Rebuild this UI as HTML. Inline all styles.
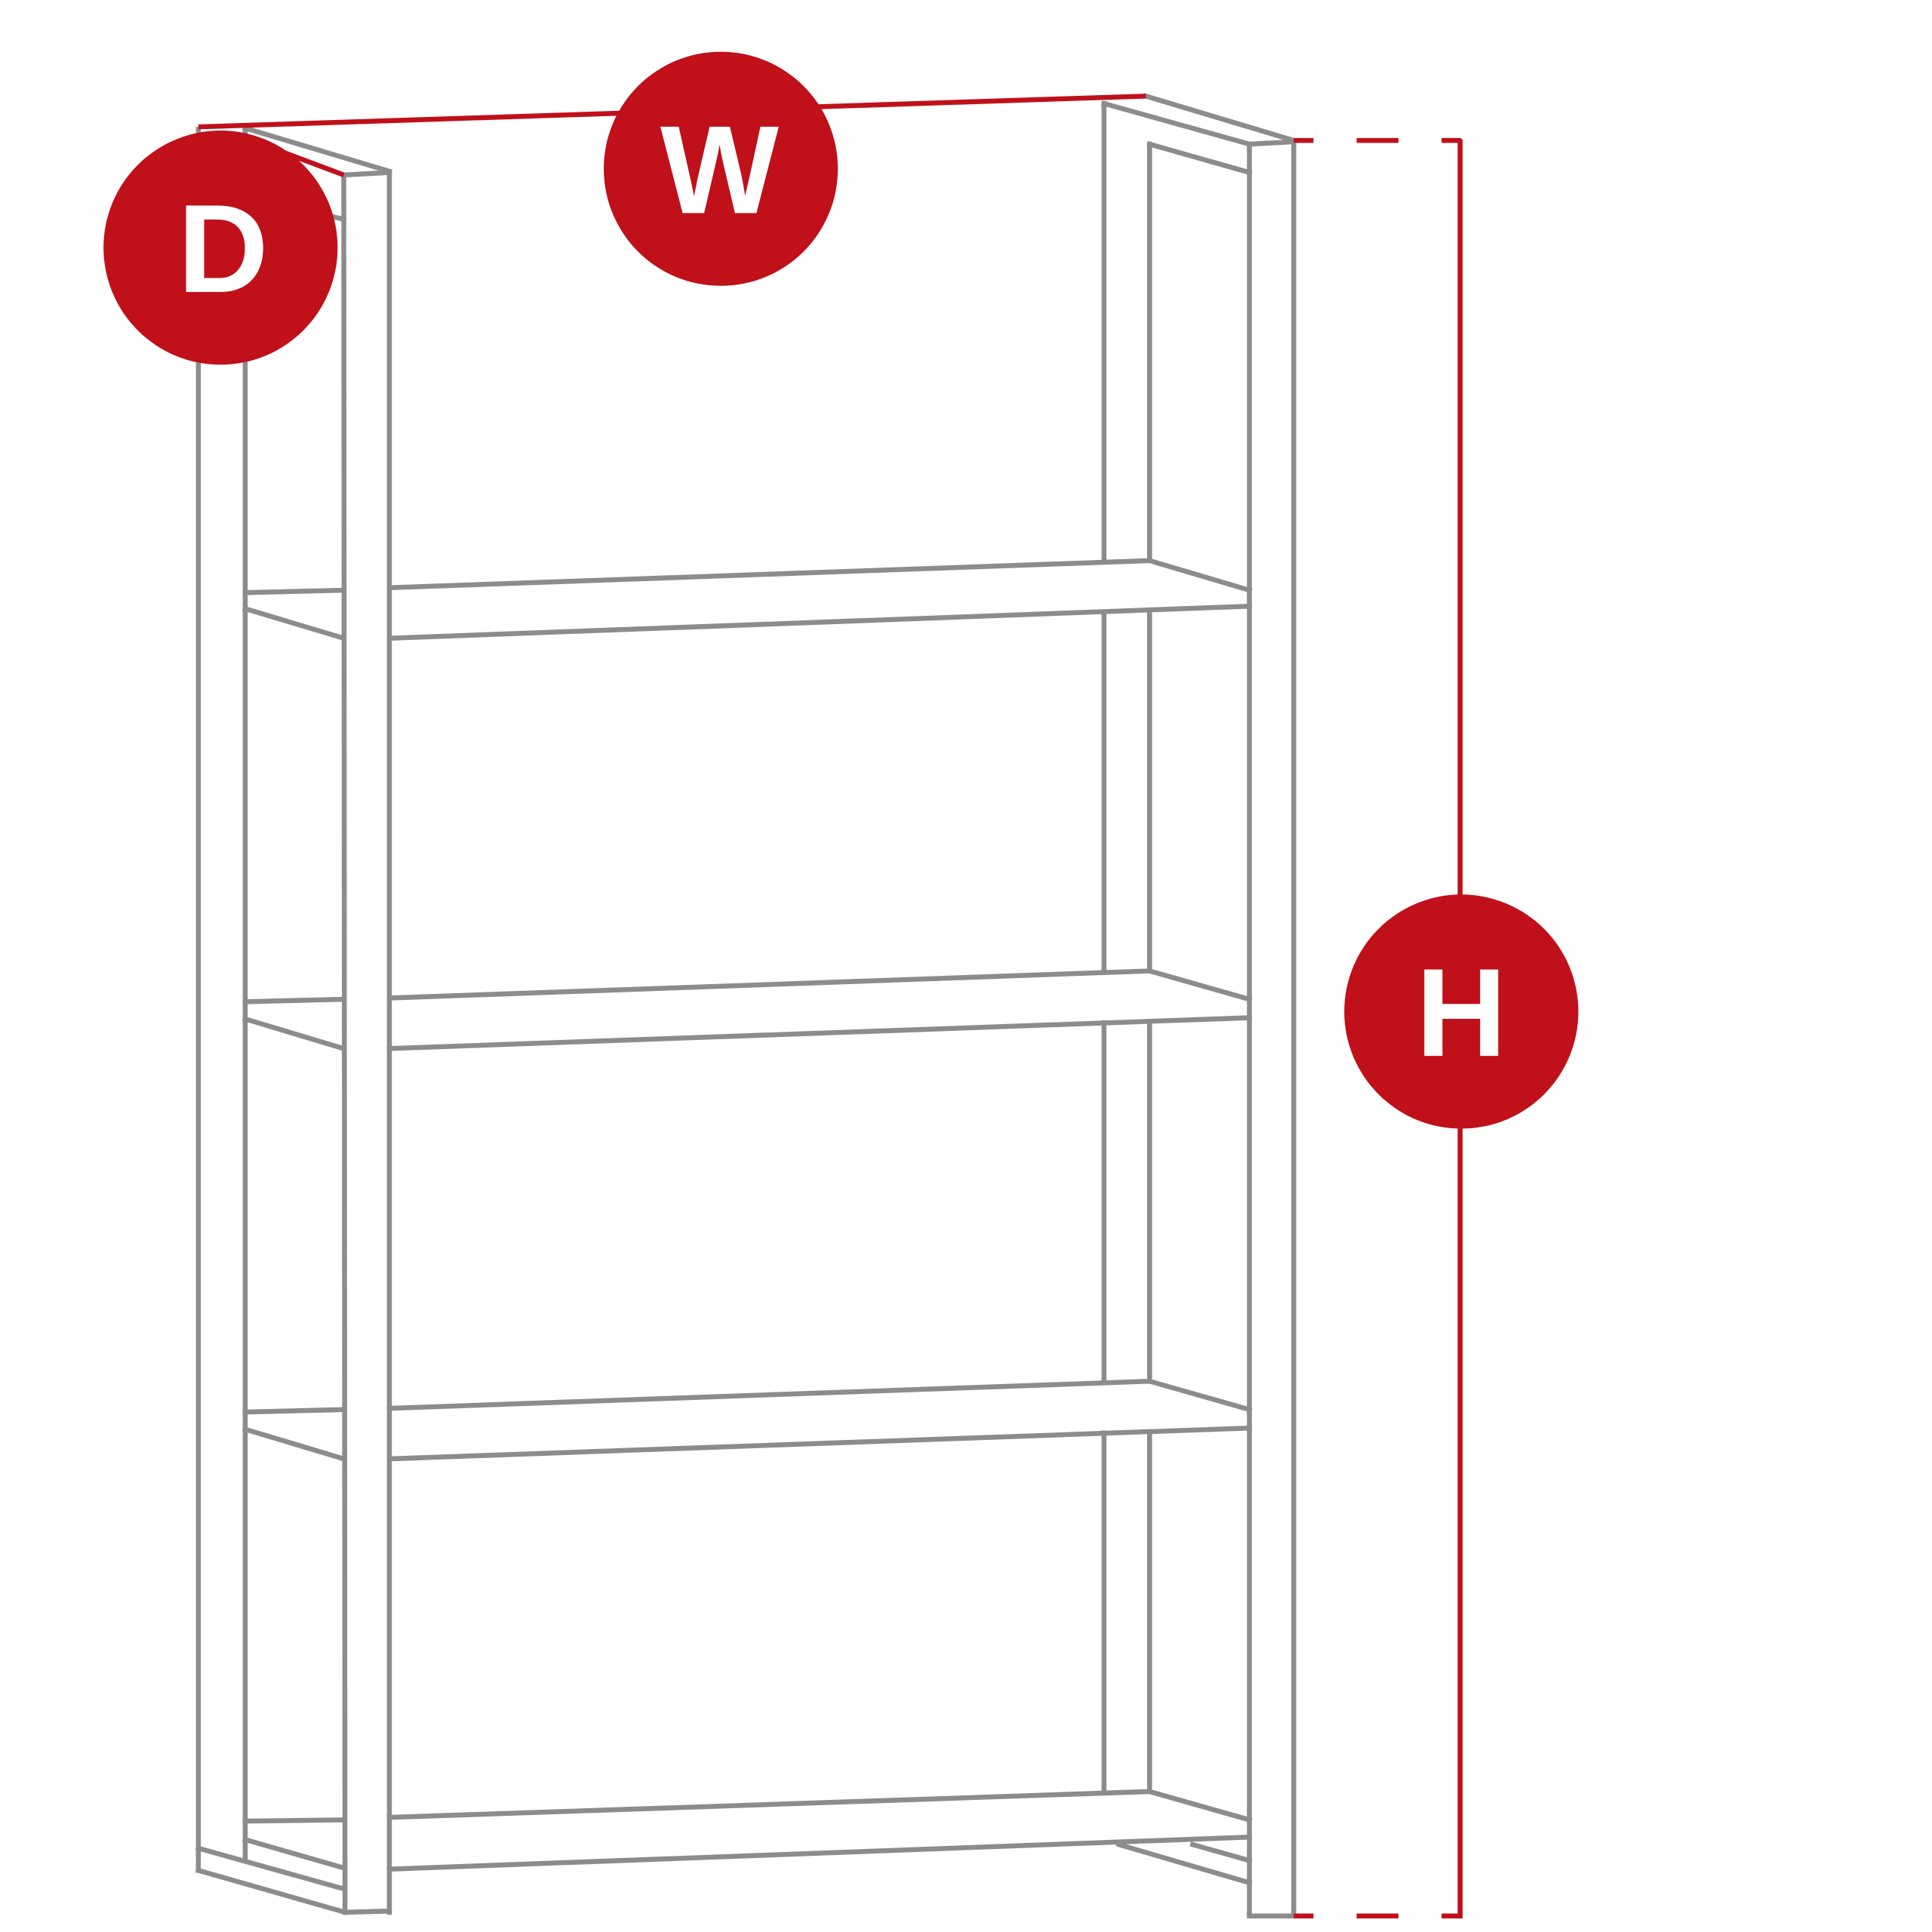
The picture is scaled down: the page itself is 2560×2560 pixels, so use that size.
<!DOCTYPE html>
<html><head><meta charset="utf-8"><style>
html,body{margin:0;padding:0;background:#fff;}
svg{display:block;}
</style></head><body>
<svg width="2560" height="2560" viewBox="0 0 1568 1568" xmlns="http://www.w3.org/2000/svg">
<g stroke="#8c8c8c" stroke-width="4" fill="none" stroke-linecap="square">
<line x1="161" y1="105" x2="161" y2="1518"/>
<line x1="199" y1="104" x2="199" y2="1508"/>
<line x1="279" y1="142" x2="280" y2="1552"/>
<line x1="316" y1="140" x2="316" y2="1552"/>
<line x1="199" y1="104" x2="316" y2="139"/>
<line x1="279" y1="142" x2="316" y2="140"/>
<line x1="258" y1="173" x2="279" y2="178"/>
<line x1="161" y1="1518" x2="280" y2="1552"/>
<line x1="161" y1="1500" x2="279" y2="1533"/>
<line x1="280" y1="1552" x2="316" y2="1551"/>
<line x1="930" y1="78" x2="1050" y2="114"/>
<line x1="896" y1="84" x2="1014" y2="117"/>
<line x1="1014" y1="117" x2="1050" y2="115"/>
<line x1="933" y1="117" x2="1014" y2="140"/>
<line x1="1014" y1="117" x2="1014" y2="1555"/>
<line x1="1050" y1="115" x2="1050" y2="1555"/>
<line x1="1014" y1="1555" x2="1050" y2="1555"/>
<line x1="908" y1="1497" x2="1014" y2="1528"/>
<line x1="968" y1="1497" x2="1014" y2="1510"/>
<line x1="896" y1="84" x2="896" y2="454"/>
<line x1="896" y1="497" x2="896" y2="787"/>
<line x1="896" y1="830" x2="896" y2="1120"/>
<line x1="896" y1="1163" x2="896" y2="1453"/>
<line x1="933" y1="117" x2="933" y2="454"/>
<line x1="933" y1="495" x2="933" y2="787"/>
<line x1="933" y1="829" x2="933" y2="1120"/>
<line x1="933" y1="1162" x2="933" y2="1453"/>
<line x1="316" y1="477" x2="933" y2="455"/><line x1="199" y1="481" x2="279" y2="479"/><line x1="933" y1="455" x2="1014" y2="479"/><line x1="316" y1="518" x2="1014" y2="492"/><line x1="199" y1="494" x2="279" y2="518"/>
<line x1="316" y1="810" x2="933" y2="788"/><line x1="199" y1="813" x2="279" y2="811"/><line x1="933" y1="788" x2="1014" y2="811"/><line x1="316" y1="851" x2="1014" y2="826"/><line x1="199" y1="827" x2="279" y2="851"/>
<line x1="316" y1="1143" x2="933" y2="1121"/><line x1="199" y1="1146" x2="279" y2="1144"/><line x1="933" y1="1121" x2="1014" y2="1144"/><line x1="316" y1="1184" x2="1014" y2="1159"/><line x1="199" y1="1160" x2="279" y2="1184"/>
<line x1="316" y1="1475" x2="933" y2="1454"/><line x1="199" y1="1478" x2="279" y2="1477"/><line x1="933" y1="1454" x2="1014" y2="1477"/><line x1="316" y1="1517" x2="1014" y2="1491"/><line x1="199" y1="1493" x2="279" y2="1516"/>
</g>
<g stroke="#c0101a" stroke-width="4" fill="none">
<line x1="161" y1="103" x2="930" y2="78"/>
<line x1="199" y1="112" x2="279" y2="142"/>
<line x1="1050" y1="114" x2="1066" y2="114"/><line x1="1101" y1="114" x2="1135" y2="114"/><line x1="1170" y1="114" x2="1186" y2="114"/>
<line x1="1050" y1="1555" x2="1066" y2="1555"/><line x1="1101" y1="1555" x2="1135" y2="1555"/><line x1="1170" y1="1555" x2="1186" y2="1555"/>
<line x1="1185" y1="113" x2="1185" y2="1557"/>
</g>
<g fill="#c0101a">
<circle cx="179" cy="201" r="95"/>
<circle cx="585" cy="137" r="95"/>
<circle cx="1186" cy="821" r="95"/>
</g>
<g fill="#fff" font-family="Liberation Sans, sans-serif" font-weight="bold" font-size="102" text-anchor="middle">
<text x="181" y="237">D</text>
<text x="584" y="173">W</text>
<text x="1186" y="857">H</text>
</g>
</svg>
</body></html>
